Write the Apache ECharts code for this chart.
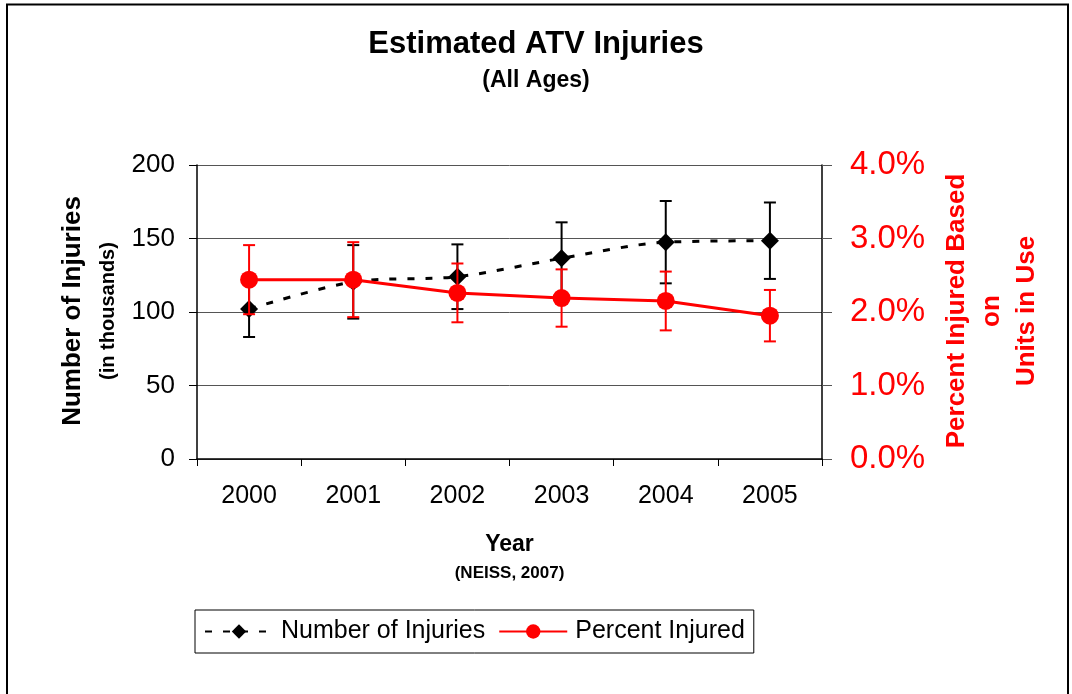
<!DOCTYPE html>
<html>
<head>
<meta charset="utf-8">
<script src="https://cdn.jsdelivr.net/npm/echarts@6/dist/echarts.min.js"></script>
<style>
  html, body { margin: 0; padding: 0; background: #fff; }
  #chart { width: 1072px; height: 694px; }
</style>
</head>
<body>
<div id="chart"></div>
<script>
// data
const years = ['2000', '2001', '2002', '2003', '2004', '2005'];
const injuries = [102, 120.5, 124, 136.5, 147.5, 148.5];      // thousands
const injuriesErr = [19, 25, 22, 24.5, 28, 26];
const percentInjured = [2.44, 2.44, 2.26, 2.19, 2.15, 1.95]; // percent
const percentErr = [0.47, 0.51, 0.40, 0.39, 0.40, 0.35];
const leftTicks = { min: 0, max: 200, interval: 50 };
const rightTicks = { min: 0, max: 4, interval: 1 };

const FONT = 'Liberation Sans, Arial, sans-serif';

function errorRange(values, errs) {
    return values.map((v, i) => [i, v - errs[i], v + errs[i]]);
}

function errorBars(color) {
    return function (params, api) {
        let x = api.value(0);
        let lo = api.coord([x, api.value(1)]);
        let hi = api.coord([x, api.value(2)]);
        let w = 6;
        let style = { stroke: color, lineWidth: 2 };
        return {
            type: 'group',
            children: [
                { type: 'line', shape: { x1: lo[0], y1: lo[1], x2: hi[0], y2: hi[1] }, style: style },
                { type: 'line', shape: { x1: hi[0] - w, y1: hi[1], x2: hi[0] + w, y2: hi[1] }, style: style },
                { type: 'line', shape: { x1: lo[0] - w, y1: lo[1], x2: lo[0] + w, y2: lo[1] }, style: style }
            ]
        };
    };
}

let myChart = echarts.init(document.getElementById('chart'));

let option = {
    backgroundColor: '#fff',
    animation: false,
    textStyle: { fontFamily: FONT },
    title: {
        text: 'Estimated ATV Injuries',
        subtext: '(All Ages)',
        left: 'center',
        top: 24,
        itemGap: 9,
        textStyle: { fontFamily: FONT, fontSize: 31, fontWeight: 'bold', color: '#000' },
        subtextStyle: { fontFamily: FONT, fontSize: 23, fontWeight: 'bold', color: '#000' }
    },
    grid: { left: 197, right: 250, top: 165, bottom: 235 },
    legend: {
        data: ['Number of Injuries', 'Percent Injured'],
        left: 195,
        top: 610,
        orient: 'horizontal',
        itemWidth: 68,
        itemHeight: 18,
        itemGap: 13,
        padding: [9, 9, 9, 9],
        borderColor: '#000',
        borderWidth: 1,
        textStyle: { fontFamily: FONT, fontSize: 25, color: '#000', padding: [0, 0, 0, 3] }
    },
    xAxis: {
        type: 'category',
        data: years,
        boundaryGap: true,
        axisLine: { lineStyle: { color: '#000', width: 1.5 } },
        axisTick: { show: true, length: 7, lineStyle: { color: '#000' } },
        axisLabel: { fontSize: 25, color: '#000', margin: 25 },
        name: '{a|Year}\n{b|(NEISS, 2007)}',
        nameLocation: 'middle',
        nameGap: 71,
        nameTextStyle: {
            rich: {
                a: { fontFamily: FONT, fontSize: 23, fontWeight: 'bold', color: '#000', lineHeight: 30 },
                b: { fontFamily: FONT, fontSize: 17, fontWeight: 'bold', color: '#000', lineHeight: 26 }
            }
        }
    },
    yAxis: [
        {
            type: 'value',
            min: leftTicks.min,
            max: leftTicks.max,
            interval: leftTicks.interval,
            position: 'left',
            axisLine: { show: true, lineStyle: { color: '#000', width: 1.5 } },
            axisTick: { show: true, length: 8, lineStyle: { color: '#000' } },
            axisLabel: { fontSize: 26, color: '#000', margin: 22 },
            splitLine: { show: true, lineStyle: { color: '#555', width: 1 } }
        },
        {
            type: 'value',
            min: rightTicks.min,
            max: rightTicks.max,
            interval: rightTicks.interval,
            position: 'right',
            axisLine: { show: true, lineStyle: { color: '#000', width: 1.5 } },
            axisTick: { show: true, length: 10, lineStyle: { color: '#555' } },
            axisLabel: {
                fontSize: 33,
                color: '#ff0000',
                margin: 28,
                formatter: v => v.toFixed(1) + '%'
            },
            splitLine: { show: false }
        }
    ],
    graphic: [
        {
            type: 'rect',
            shape: { x: 7, y: 4.5, width: 1061, height: 720 },
            style: { fill: 'none', stroke: '#000', lineWidth: 2 },
            silent: true
        },
        {
            type: 'text', x: 73, y: 311, rotation: Math.PI / 2,
            style: { text: 'Number of Injuries', align: 'center', verticalAlign: 'middle',
                font: 'bold 26px ' + FONT, fill: '#000' }
        },
        {
            type: 'text', x: 108, y: 311, rotation: Math.PI / 2,
            style: { text: '(in thousands)', align: 'center', verticalAlign: 'middle',
                font: 'bold 20px ' + FONT, fill: '#000' }
        },
        {
            type: 'text', x: 957, y: 311, rotation: Math.PI / 2,
            style: { text: 'Percent Injured Based', align: 'center', verticalAlign: 'middle',
                font: 'bold 26px ' + FONT, fill: '#ff0000' }
        },
        {
            type: 'text', x: 992, y: 311, rotation: Math.PI / 2,
            style: { text: 'on', align: 'center', verticalAlign: 'middle',
                font: 'bold 26px ' + FONT, fill: '#ff0000' }
        },
        {
            type: 'text', x: 1027, y: 311, rotation: Math.PI / 2,
            style: { text: 'Units in Use', align: 'center', verticalAlign: 'middle',
                font: 'bold 26px ' + FONT, fill: '#ff0000' }
        }
    ],
    series: [
        {
            name: 'Number of Injuries',
            type: 'line',
            yAxisIndex: 0,
            data: injuries,
            smooth: 0.3,
            symbol: 'diamond',
            symbolSize: 18,
            itemStyle: { color: '#000' },
            lineStyle: { color: '#000', width: 3, type: [7, 11] },
            z: 2
        },
        {
            name: 'Injuries error',
            type: 'custom',
            yAxisIndex: 0,
            data: errorRange(injuries, injuriesErr),
            renderItem: errorBars('#000'),
            z: 3
        },
        {
            name: 'Percent Injured',
            type: 'line',
            yAxisIndex: 1,
            data: percentInjured,
            symbol: 'circle',
            symbolSize: 18,
            itemStyle: { color: '#ff0000' },
            lineStyle: { color: '#ff0000', width: 3 },
            z: 4
        },
        {
            name: 'Percent error',
            type: 'custom',
            yAxisIndex: 1,
            data: errorRange(percentInjured, percentErr),
            renderItem: errorBars('#ff0000'),
            z: 5
        }
    ]
};

myChart.setOption(option);
</script>
</body>
</html>
